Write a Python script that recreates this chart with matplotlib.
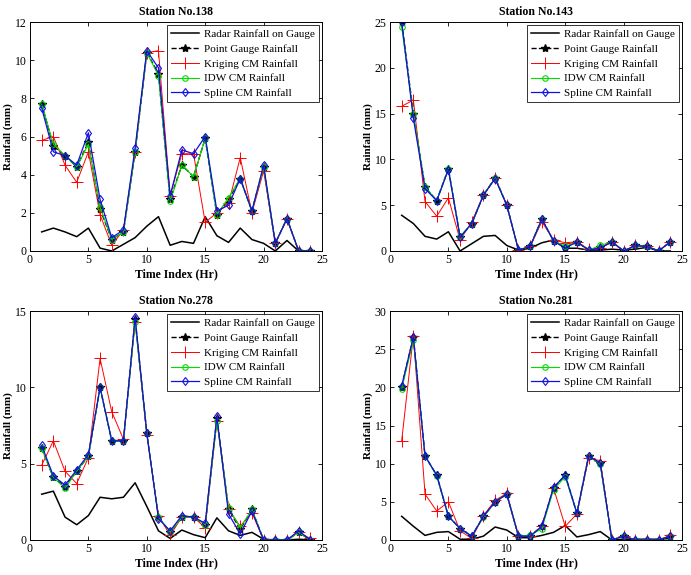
import matplotlib
matplotlib.use("Agg")
import matplotlib.pyplot as plt
import numpy as np

plt.rcParams["font.family"] = ["Liberation Serif", "DejaVu Serif"]

hours = np.arange(1, 25)

# Station No.138
s138_radar = [1.0, 1.2, 1.0, 0.75, 1.2, 0.15, 0.0, 0.35, 0.7, 1.3, 1.8, 0.3,
              0.5, 0.4, 1.8, 0.8, 0.45, 1.2, 0.6, 0.4, 0.0, 0.55, 0.0, 0.0]
s138_gauge = [7.7, 5.5, 5.0, 4.4, 5.7, 2.2, 0.6, 1.0, 5.2, 10.4, 9.3, 2.7,
              4.5, 3.9, 5.9, 1.9, 2.7, 3.8, 2.1, 4.4, 0.4, 1.7, 0.0, 0.0]
s138_krig = [5.8, 6.0, 4.5, 3.6, 5.2, 1.9, 0.3, 1.1, 5.2, 10.4, 10.5, 2.9,
             5.1, 5.1, 1.5, 2.0, 2.5, 4.9, 2.0, 4.2, 0.4, 1.7, 0.0, 0.0]
s138_idw = [7.7, 5.6, 5.0, 4.4, 5.6, 2.3, 0.6, 1.0, 5.2, 10.4, 9.2, 2.6,
            4.5, 3.9, 5.9, 1.9, 2.8, 3.8, 2.1, 4.4, 0.4, 1.7, 0.0, 0.0]
s138_spline = [7.5, 5.2, 5.0, 4.5, 6.2, 2.7, 0.7, 1.1, 5.4, 10.5, 9.6, 2.9,
               5.3, 5.1, 6.0, 2.1, 2.4, 3.8, 2.1, 4.5, 0.4, 1.7, 0.0, 0.0]

# Station No.143
s143_radar = [3.9, 3.0, 1.6, 1.3, 2.1, 0.0, 0.8, 1.6, 1.7, 0.6, 0.1, 0.3,
              0.9, 1.2, 0.3, 0.3, 0.1, 0.1, 0.2, 0.1, 0.2, 0.4, 0.0, 0.0]
s143_gauge = [25.0, 15.0, 7.0, 5.5, 9.0, 1.5, 3.0, 6.1, 8.0, 5.0, 0.1, 0.5,
              3.5, 1.1, 0.4, 1.0, 0.1, 0.4, 1.0, 0.0, 0.6, 0.5, 0.0, 1.0]
s143_krig = [15.8, 16.5, 5.4, 3.8, 5.8, 1.2, 3.2, 6.1, 8.0, 5.0, 0.1, 0.5,
             3.2, 1.2, 0.9, 1.0, 0.2, 0.3, 1.0, 0.0, 0.6, 0.5, 0.0, 1.0]
s143_idw = [24.5, 15.0, 7.0, 5.5, 9.0, 1.6, 3.0, 6.1, 8.0, 5.0, 0.1, 0.5,
            3.5, 1.1, 0.5, 1.0, 0.1, 0.6, 1.0, 0.0, 0.6, 0.5, 0.0, 1.0]
s143_spline = [25.0, 14.5, 6.8, 5.5, 8.9, 1.5, 3.0, 6.1, 7.9, 5.0, 0.1, 0.5,
               3.5, 1.1, 0.3, 1.0, 0.1, 0.3, 1.0, 0.0, 0.6, 0.5, 0.0, 1.0]

# Station No.278
s278_radar = [3.0, 3.2, 1.5, 1.0, 1.6, 2.8, 2.7, 2.8, 3.75, 2.2, 0.6, 0.1,
              0.65, 0.35, 0.15, 1.45, 0.6, 0.3, 0.5, 0.05, 0.0, 0.0, 0.05, 0.0]
s278_gauge = [6.0, 4.1, 3.5, 4.5, 5.5, 10.0, 6.5, 6.5, 14.5, 7.0, 1.5, 0.5,
              1.5, 1.5, 1.0, 8.0, 2.0, 0.7, 2.0, 0.0, 0.0, 0.0, 0.5, 0.0]
s278_krig = [4.9, 6.5, 4.5, 3.7, 5.4, 11.9, 8.4, 6.6, 14.3, 6.9, 1.6, 0.3,
             1.5, 1.5, 0.8, 7.8, 2.0, 0.9, 1.8, 0.0, 0.0, 0.0, 0.5, 0.1]
s278_idw = [6.0, 4.1, 3.4, 4.5, 5.5, 10.0, 6.5, 6.5, 14.3, 7.0, 1.5, 0.5,
            1.5, 1.5, 1.0, 7.8, 2.1, 0.8, 2.0, 0.0, 0.0, 0.0, 0.5, 0.0]
s278_spline = [6.2, 4.2, 3.6, 4.6, 5.6, 10.0, 6.5, 6.5, 14.6, 7.0, 1.4, 0.6,
               1.6, 1.5, 1.1, 8.1, 1.7, 0.4, 1.9, 0.0, 0.0, 0.0, 0.6, 0.0]

# Station No.281
s281_radar = [3.1, 1.8, 0.6, 1.0, 1.1, 0.1, 0.1, 0.5, 1.7, 1.3, 0.3, 0.3,
              0.6, 1.0, 1.9, 0.4, 0.7, 1.1, 0.0, 0.1, 0.1, 0.1, 0.1, 0.2]
s281_gauge = [20.1, 26.6, 11.0, 8.5, 3.1, 1.5, 0.5, 3.1, 5.0, 6.0, 0.5, 0.5,
              1.8, 6.8, 8.5, 3.5, 11.0, 10.1, 0.0, 0.5, 0.0, 0.0, 0.0, 0.5]
s281_krig = [13.0, 26.8, 6.0, 3.8, 5.0, 1.2, 0.2, 3.2, 5.2, 6.1, 0.5, 0.5,
             1.8, 6.8, 1.8, 3.4, 10.7, 10.4, 0.0, 0.5, 0.0, 0.0, 0.0, 0.6]
s281_idw = [19.8, 26.2, 11.0, 8.4, 3.1, 1.5, 0.5, 3.0, 5.0, 6.0, 0.5, 0.6,
            1.5, 6.6, 8.3, 3.5, 11.0, 9.9, 0.0, 0.5, 0.0, 0.0, 0.0, 0.5]
s281_spline = [20.2, 26.6, 11.0, 8.5, 3.1, 1.5, 0.5, 3.1, 5.0, 6.0, 0.5, 0.5,
               1.8, 6.9, 8.5, 3.5, 11.0, 10.1, 0.0, 0.5, 0.0, 0.0, 0.0, 0.5]

stations = [
    ("Station No.138", s138_radar, s138_gauge, s138_krig, s138_idw, s138_spline, 12, 2),
    ("Station No.143", s143_radar, s143_gauge, s143_krig, s143_idw, s143_spline, 25, 5),
    ("Station No.278", s278_radar, s278_gauge, s278_krig, s278_idw, s278_spline, 15, 5),
    ("Station No.281", s281_radar, s281_gauge, s281_krig, s281_idw, s281_spline, 30, 5),
]

fig = plt.figure(figsize=(6.91, 5.75), dpi=100)
positions = [
    (0.0434, 0.5635, 0.4226, 0.398),
    (0.5644, 0.5635, 0.4226, 0.398),
    (0.0434, 0.0609, 0.4226, 0.398),
    (0.5644, 0.0609, 0.4226, 0.398),
]

for pos, (title, radar, gauge, krig, idw, spline, ymax, ystep) in zip(positions, stations):
    ax = fig.add_axes(pos)
    ax.plot(hours, radar, color="black", linewidth=1.1, label="Radar Rainfall on Gauge")
    ax.plot(hours, gauge, color="black", linestyle="--", linewidth=1.0, marker="*",
            markersize=6, label="Point Gauge Rainfall")
    ax.plot(hours, krig, color="red", linewidth=0.7, marker="+", markersize=9,
            markeredgewidth=0.7, label="Kriging CM Rainfall")
    ax.plot(hours, idw, color="#00dd00", linewidth=0.8, marker="o", markersize=4,
            markerfacecolor="none", markeredgewidth=0.8, label="IDW CM Rainfall")
    ax.plot(hours, spline, color="#1010e0", linewidth=0.9, marker="d", markersize=4.5,
            markerfacecolor="none", markeredgewidth=0.8, label="Spline CM Rainfall")

    ax.set_xlim(0, 25)
    ax.set_ylim(0, ymax)
    ax.set_xticks(np.arange(0, 26, 5))
    ax.set_yticks(np.arange(0, ymax + 0.1, ystep))
    ax.tick_params(direction="in", top=True, right=True, labelsize=8.5, length=3,
                   width=0.6, pad=2.5)
    for sp in ax.spines.values():
        sp.set_linewidth(0.7)

    ax.set_title(title, fontsize=8.5, fontweight="bold", pad=5)
    ax.set_xlabel("Time Index (Hr)", fontsize=8.5, fontweight="bold", labelpad=1)
    ax.set_ylabel("Rainfall (mm)", fontsize=8, fontweight="bold", labelpad=1)

    leg = ax.legend(loc="upper right", fontsize=8, frameon=True, fancybox=False,
                    borderpad=0.35, labelspacing=0.45, handlelength=2.6,
                    handletextpad=0.4, borderaxespad=0.3, numpoints=1)
    leg.get_frame().set_edgecolor("black")
    leg.get_frame().set_linewidth(0.7)

fig.savefig("out.png", dpi=100)
